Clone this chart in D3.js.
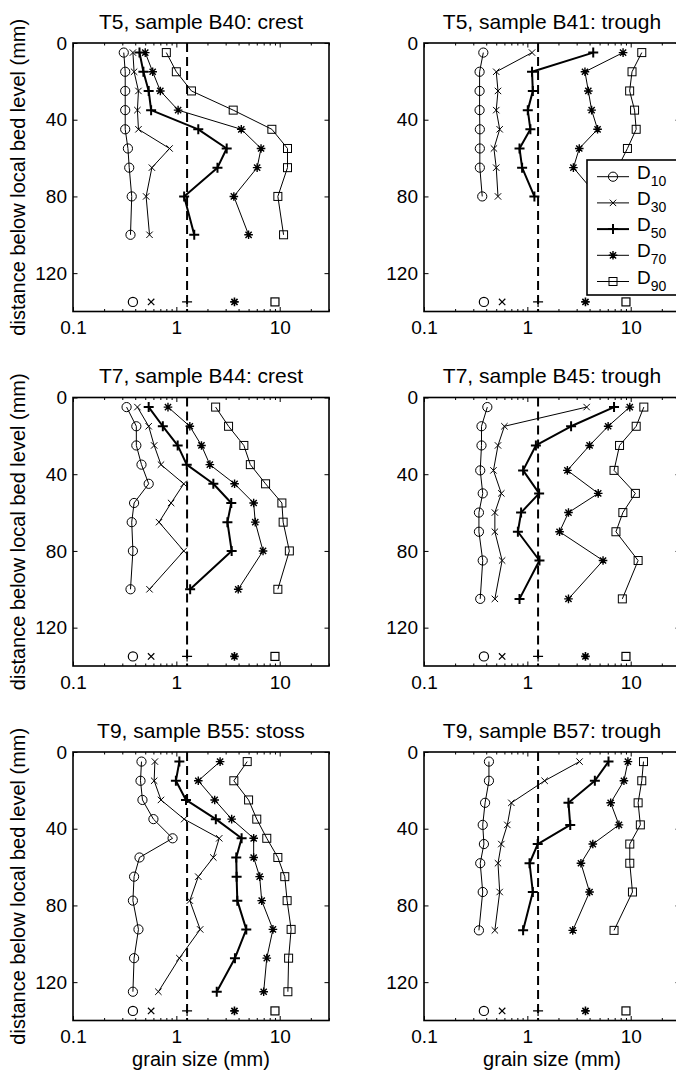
<!DOCTYPE html>
<html><head><meta charset="utf-8">
<script src="https://cdn.jsdelivr.net/npm/d3@7/dist/d3.min.js"></script>
<style>
body{margin:0;background:#fff}
svg{display:block}
text{font-family:"Liberation Sans",Arial,Helvetica,sans-serif;fill:#000}
</style>
</head><body>
<svg id="chart" width="676" height="1072"></svg>
<script>
// ---------- data (grain size in mm, depth in mm) ----------
const seriesNames = ["10", "30", "50", "70", "90"];
const xTickValues = [0.1, 1, 10];
const yTickValues = [0, 40, 80, 120];
const refDepth = 135;
const refValues = [0.38, 0.57, 1.27, 3.65, 9.0];
const dashedValue = 1.27;

const titles = ["T5, sample B40: crest", "T5, sample B41: trough",
                "T7, sample B44: crest", "T7, sample B45: trough",
                "T9, sample B55: stoss", "T9, sample B57: trough"];

const depthB40 = [5, 15, 25, 35, 45, 55, 65, 80, 100];
const d10B40 = [0.31, 0.32, 0.32, 0.32, 0.32, 0.34, 0.35, 0.37, 0.36];
const d30B40 = [0.38, 0.39, 0.43, 0.42, 0.43, 0.86, 0.58, 0.51, 0.55];
const d50B40 = [0.44, 0.48, 0.54, 0.57, 1.63, 3.07, 2.5, 1.19, 1.49];
const d70B40 = [0.5, 0.59, 0.7, 1.04, 4.25, 6.6, 6.05, 3.6, 5.0];
const d90B40 = [0.8, 1.0, 1.4, 3.55, 8.4, 11.9, 11.9, 9.6, 10.9];

const depthB41 = [5, 15, 25, 35, 45, 55, 65, 80];
const d10B41 = [0.375, 0.345, 0.345, 0.345, 0.347, 0.347, 0.347, 0.366];
const d30B41 = [1.11, 0.5, 0.52, 0.5, 0.54, 0.475, 0.5, 0.52];
const d50B41 = [4.34, 1.11, 1.13, 1.01, 1.07, 0.84, 0.89, 1.17];
const d70B41 = [8.44, 3.61, 3.89, 4.19, 4.78, 3.18, 2.79, 4.8];
const d90B41 = [12.8, 10.3, 9.77, 10.9, 11.3, 9.3, 7.5, 8.5];

const depthB44 = [5, 15, 25, 35, 45, 55, 65, 80, 100];
const d10B44 = [0.33, 0.41, 0.41, 0.46, 0.54, 0.39, 0.37, 0.38, 0.36];
const d30B44 = [0.42, 0.54, 0.61, 0.71, 1.18, 0.89, 0.68, 1.18, 0.55];
const d50B44 = [0.54, 0.74, 1.03, 1.26, 2.28, 3.4, 3.12, 3.43, 1.36];
const d70B44 = [0.83, 1.35, 1.75, 2.11, 3.66, 5.6, 5.8, 6.9, 3.97];
const d90B44 = [2.4, 3.2, 4.5, 5.2, 7.3, 10.5, 10.8, 12.4, 9.6];

const depthB45 = [5, 15, 25, 38, 50, 60, 70, 85, 105];
const d10B45 = [0.41, 0.36, 0.36, 0.35, 0.37, 0.34, 0.34, 0.37, 0.35];
const d30B45 = [3.75, 0.6, 0.52, 0.47, 0.56, 0.485, 0.485, 0.57, 0.485];
const d50B45 = [6.9, 2.65, 1.21, 0.91, 1.3, 0.87, 0.81, 1.31, 0.84];
const d70B45 = [9.8, 6.05, 4.0, 2.44, 4.85, 2.5, 2.05, 5.4, 2.5];
const d90B45 = [13.4, 11.3, 7.8, 6.9, 11.1, 8.4, 7.2, 11.8, 8.3];

const depthB55 = [5, 15, 25, 35, 45, 55, 65, 77.5, 92.5, 107.5, 125];
const d10B55 = [0.46, 0.45, 0.47, 0.6, 0.92, 0.44, 0.39, 0.38, 0.43, 0.39, 0.38];
const d30B55 = [0.62, 0.61, 0.71, 1.19, 2.6, 2.28, 1.63, 1.35, 1.7, 1.07, 0.67];
const d50B55 = [1.07, 0.99, 1.24, 2.41, 4.28, 3.8, 3.83, 3.89, 4.75, 3.69, 2.46];
const d70B55 = [2.65, 1.63, 2.35, 3.43, 5.6, 5.6, 6.4, 6.7, 8.6, 7.5, 7.0];
const d90B55 = [4.85, 3.6, 5.0, 6.0, 7.5, 9.6, 11.2, 11.8, 12.9, 12.2, 12.0];

const depthB57 = [5, 15, 26.5, 38, 48, 58, 73, 93];
const d10B57 = [0.425, 0.425, 0.39, 0.37, 0.38, 0.35, 0.37, 0.34];
const d30B57 = [3.2, 1.47, 0.7, 0.64, 0.56, 0.52, 0.54, 0.485];
const d50B57 = [6.1, 4.5, 2.5, 2.6, 1.26, 1.05, 1.13, 0.91];
const d70B57 = [9.4, 8.6, 6.4, 7.7, 4.3, 3.3, 4.0, 2.75];
const d90B57 = [13.3, 12.8, 11.8, 12.4, 9.8, 9.8, 10.4, 6.9];

const panelDepths = [depthB40, depthB41, depthB44, depthB45, depthB55, depthB57];
const panelSeries = [
  [d10B40, d30B40, d50B40, d70B40, d90B40],
  [d10B41, d30B41, d50B41, d70B41, d90B41],
  [d10B44, d30B44, d50B44, d70B44, d90B44],
  [d10B45, d30B45, d50B45, d70B45, d90B45],
  [d10B55, d30B55, d50B55, d70B55, d90B55],
  [d10B57, d30B57, d50B57, d70B57, d90B57]
];

// ---------- layout ----------
const W = 256, H = 268.5;
const colX = [73, 424];
const rowY = [43, 397.5, 752];
const svg = d3.select("#chart");

const lineW = [1, 1, 2, 1, 1];
function drawMarker(g, k, cx, cy, sw) {
  const s = g.append("g").attr("transform", `translate(${cx},${cy})`)
    .attr("fill", "none").attr("stroke", "#000").attr("stroke-width", sw);
  if (k === 0) s.append("circle").attr("r", 4.6);
  else if (k === 1) s.append("path").attr("d", "M-3.2,-3.2L3.2,3.2M-3.2,3.2L3.2,-3.2");
  else if (k === 2) s.append("path").attr("d", "M-5,0H5M0,-5V5");
  else if (k === 3) s.append("path").attr("d", "M-4.3,0H4.3M0,-4.3V4.3M-3.1,-3.1L3.1,3.1M-3.1,3.1L3.1,-3.1").attr("stroke-width", sw + 0.4);
  else s.append("rect").attr("x", -4).attr("y", -4).attr("width", 8).attr("height", 8);
}

titles.forEach((title, i) => {
  const col = i % 2, row = Math.floor(i / 2);
  const g = svg.append("g").attr("transform", `translate(${colX[col]},${rowY[row]})`);
  const x = d3.scaleLog().domain([0.1, 30]).range([0, W]);
  const y = d3.scaleLinear().domain([0, 140]).range([0, H]);

  // minor ticks
  const minor = [];
  [0.1, 1, 10].forEach(dec => { for (let m = 2; m <= 9; m++) { const v = dec * m; if (v <= 30) minor.push(v); } });
  g.append("g").attr("transform", `translate(0,${H})`)
    .call(d3.axisBottom(x).tickValues(minor).tickSize(-2.5).tickFormat(""))
    .call(a => a.select(".domain").remove());
  g.append("g")
    .call(d3.axisTop(x).tickValues(minor).tickSize(-2.5).tickFormat(""))
    .call(a => a.select(".domain").remove());

  // major ticks with labels
  g.append("g").attr("transform", `translate(0,${H})`)
    .call(d3.axisBottom(x).tickValues(xTickValues).tickSize(-4.5).tickPadding(9.5).tickFormat(d3.format("~g")))
    .call(a => a.select(".domain").remove())
    .call(a => a.selectAll("text").attr("font-size", 19).attr("font-family", "Liberation Sans, Arial, sans-serif"));
  g.append("g")
    .call(d3.axisTop(x).tickValues(xTickValues).tickSize(-4.5).tickFormat(""))
    .call(a => a.select(".domain").remove());
  g.append("g")
    .call(d3.axisLeft(y).tickValues(yTickValues).tickSize(-4.5).tickPadding(6))
    .call(a => a.select(".domain").remove())
    .call(a => a.selectAll("text").attr("font-size", 19).attr("font-family", "Liberation Sans, Arial, sans-serif"));
  g.append("g").attr("transform", `translate(${W},0)`)
    .call(d3.axisRight(y).tickValues(yTickValues).tickSize(-4.5).tickFormat(""))
    .call(a => a.select(".domain").remove());
  g.selectAll(".tick line").attr("stroke", "#000").attr("stroke-width", 1);

  // box
  g.append("rect").attr("x", 0).attr("y", 0).attr("width", W).attr("height", H)
    .attr("fill", "none").attr("stroke", "#000").attr("stroke-width", 1.6);

  // dashed reference line
  g.append("line").attr("x1", x(dashedValue)).attr("x2", x(dashedValue))
    .attr("y1", y(0)).attr("y2", y(140))
    .attr("stroke", "#000").attr("stroke-width", 2).attr("stroke-dasharray", "9,5");

  // series
  const depths = panelDepths[i];
  panelSeries[i].forEach((vals, k) => {
    const pts = vals.map((v, j) => [x(v), y(depths[j])]);
    g.append("path").attr("d", d3.line()(pts))
      .attr("fill", "none").attr("stroke", "#000").attr("stroke-width", lineW[k]).attr("stroke-linejoin", "round");
    pts.forEach(p => drawMarker(g, k, p[0], p[1], lineW[k]));
  });

  // reference markers at bottom
  refValues.forEach((v, k) => drawMarker(g, k, x(v), y(refDepth), 1.2));

  // title
  g.append("text").attr("x", W / 2).attr("y", -14.5).attr("text-anchor", "middle")
    .attr("font-size", 21).text(title);

  if (col === 0) {
    g.append("text").attr("transform", `translate(${25 - colX[0]},${H / 2}) rotate(-90)`)
      .attr("text-anchor", "middle").attr("font-size", 20).text("distance below local bed level (mm)");
  }
  if (row === 2) {
    g.append("text").attr("x", W / 2).attr("y", H + 45).attr("text-anchor", "middle")
      .attr("font-size", 20).text("grain size (mm)");
  }

  // legend in the top-right panel
  if (i === 1) {
    const lg = g.append("g").attr("transform", `translate(163,117)`);
    lg.append("rect").attr("x", 0).attr("y", 0).attr("width", 120).attr("height", 135)
      .attr("fill", "#fff").attr("stroke", "#000").attr("stroke-width", 1.6);
    seriesNames.forEach((nm, k) => {
      const yy = 16.7 + k * 26.2;
      lg.append("line").attr("x1", 10).attr("x2", 42).attr("y1", yy).attr("y2", yy)
        .attr("stroke", "#000").attr("stroke-width", lineW[k]);
      drawMarker(lg, k, 26, yy, lineW[k]);
      const t = lg.append("text").attr("x", 50).attr("y", yy + 2).attr("font-size", 19);
      t.append("tspan").text("D");
      t.append("tspan").attr("dy", 7).attr("font-size", 14).text(nm);
    });
  }
});
</script>
</body></html>
